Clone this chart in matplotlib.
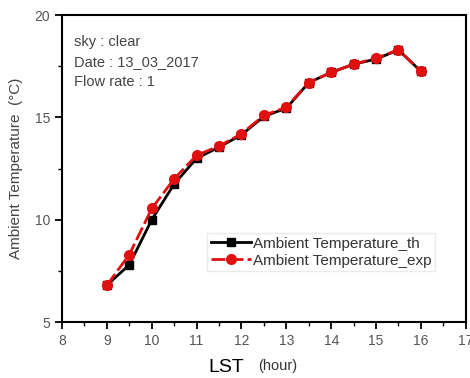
import numpy as np
import matplotlib
matplotlib.use('Agg')
import matplotlib.pyplot as plt
from matplotlib.ticker import MultipleLocator

plt.rcParams['font.family'] = ['Liberation Sans', 'DejaVu Sans']

# 数据
hours = [9, 9.5, 10, 10.5, 11, 11.5, 12, 12.5, 13, 13.5, 14, 14.5, 15, 15.5, 16]
temp_th = [6.8, 7.8, 10.0, 11.75, 13.0, 13.55, 14.15, 15.05, 15.45, 16.7, 17.2, 17.6, 17.85, 18.3, 17.25]
temp_exp = [6.8, 8.3, 10.55, 12.0, 13.15, 13.6, 14.2, 15.1, 15.5, 16.7, 17.2, 17.6, 17.9, 18.3, 17.25]
info_lines = ['sky : clear', 'Date : 13_03_2017', 'Flow rate : 1']

fig = plt.figure(figsize=(4.7, 3.78), dpi=100)
ax = fig.add_axes([0.132, 0.148, 0.859, 0.812])

ax.plot(hours, temp_th, color='black', lw=2, marker='s', markersize=6,
        label='Ambient Temperature_th')
ax.plot(hours, temp_exp, color='#e01010', lw=2, ls=(0, (5, 1.5)), marker='o',
        markersize=7, markerfacecolor='#e01010', markeredgecolor='#e01010',
        label='Ambient Temperature_exp')

ax.set_xlim(8, 17)
ax.set_ylim(5, 20)
ax.xaxis.set_major_locator(MultipleLocator(1))
ax.xaxis.set_minor_locator(MultipleLocator(0.5))
ax.yaxis.set_major_locator(MultipleLocator(5))
ax.yaxis.set_minor_locator(MultipleLocator(2.5))
ax.tick_params(which='major', direction='out', length=5, width=1.3,
               labelsize=10, labelcolor='#555555')
ax.tick_params(which='minor', direction='out', length=3, width=1.0)
for s in ax.spines.values():
    s.set_linewidth(1.5)

for i, line in enumerate(info_lines):
    ax.text(0.03, 0.912 - i * 0.065, line, transform=ax.transAxes,
            fontsize=10.5, color='#444444', va='center')

ax.set_ylabel('Ambient Temperature  (°C)', fontsize=11, color='#444444', labelpad=8)
fig.text(0.481, 0.006, 'LST', fontsize=14, ha='center', va='bottom')
fig.text(0.591, 0.022, '(hour)', fontsize=10.5, ha='center', va='baseline', color='#333333')

leg = ax.legend(loc='lower right', bbox_to_anchor=(0.925, 0.165), fontsize=11,
                frameon=True, fancybox=False, edgecolor='#e6e6e6',
                handlelength=2.6, handletextpad=0.15, borderpad=0.25,
                labelspacing=0.2, borderaxespad=0)
for t in leg.get_texts():
    t.set_color('#333333')

fig.savefig('out.png', dpi=100)
